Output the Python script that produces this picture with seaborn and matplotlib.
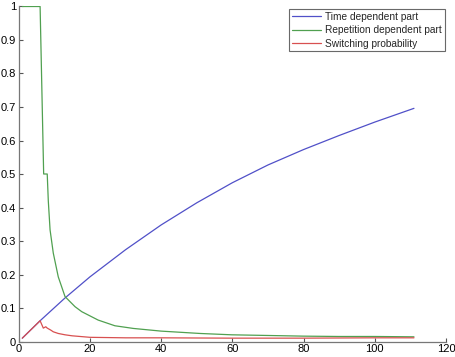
import pandas as pd
import matplotlib
matplotlib.use('Agg')
import matplotlib.pyplot as plt
import seaborn as sns

# values
time_x = [1, 6, 13, 20, 30, 40, 50, 60, 70, 80, 90, 100, 111]
time_y = [0.010, 0.062, 0.130, 0.193, 0.274, 0.348, 0.414, 0.474, 0.527, 0.573, 0.615, 0.655, 0.696]

rep_x = [1, 6, 7, 8, 8.3, 8.8, 9.7, 11.1, 13, 15.8, 17.7, 22.3, 27, 32.2, 40, 50.9, 59.8, 70, 80, 90, 100, 111]
rep_y = [1.0, 1.0, 0.5, 0.5, 0.42, 0.333, 0.264, 0.193, 0.134, 0.104, 0.089, 0.064, 0.047, 0.039, 0.031,
         0.024, 0.020, 0.018, 0.016, 0.015, 0.015, 0.014]

switch_x = [1, 6, 6.9, 7.6, 8, 9, 9.7, 11.1, 13, 15, 20, 30, 40, 60, 80, 100, 111]
switch_y = [0.010, 0.062, 0.040, 0.044, 0.040, 0.034, 0.029, 0.024, 0.020, 0.017, 0.0125, 0.011, 0.011,
            0.010, 0.010, 0.011, 0.011]

labels = ['Time dependent part', 'Repetition dependent part', 'Switching probability']
colors = ['#5050c8', '#50a050', '#d85050']

x_ticks = [0, 20, 40, 60, 80, 100, 120]
y_ticks = [0, 0.1, 0.2, 0.3, 0.4, 0.5, 0.6, 0.7, 0.8, 0.9, 1]
y_tick_labels = ['0', '0.1', '0.2', '0.3', '0.4', '0.5', '0.6', '0.7', '0.8', '0.9', '1']

sns.set_style('white')
plt.rcParams['font.family'] = ['Liberation Sans', 'DejaVu Sans']

fig = plt.figure(figsize=(4.56, 3.57), dpi=100)
ax = fig.add_axes([0.0411, 0.0434, 0.937, 0.9384])

series = [(time_x, time_y), (rep_x, rep_y), (switch_x, switch_y)]
for (xs, ys), lab, col in zip(series, labels, colors):
    df = pd.DataFrame({'x': xs, 'y': ys})
    sns.lineplot(x='x', y='y', data=df, ax=ax, color=col, linewidth=0.9, label=lab, sort=False)

ax.set_xlim(0, 120)
ax.set_ylim(0, 1)
ax.set_xticks(x_ticks)
ax.set_yticks(y_ticks)
ax.set_yticklabels(y_tick_labels)
ax.set_xlabel('')
ax.set_ylabel('')
ax.tick_params(direction='in', length=3, width=0.8, colors='#555555', labelcolor='black',
               labelsize=8, pad=2, bottom=True, left=True)

for side in ['top', 'right']:
    ax.spines[side].set_visible(False)
for side in ['left', 'bottom']:
    ax.spines[side].set_color('#777777')
    ax.spines[side].set_linewidth(0.9)

leg = ax.legend(loc='upper right', fontsize=7.3, frameon=True, fancybox=False,
                handlelength=2.9, handletextpad=0.4, borderpad=0.25, labelspacing=0.35,
                borderaxespad=0, bbox_to_anchor=(0.9965, 0.9925))
leg.get_frame().set_edgecolor('#444444')
leg.get_frame().set_linewidth(0.8)

fig.savefig('out.png', dpi=100)
plt.close()
